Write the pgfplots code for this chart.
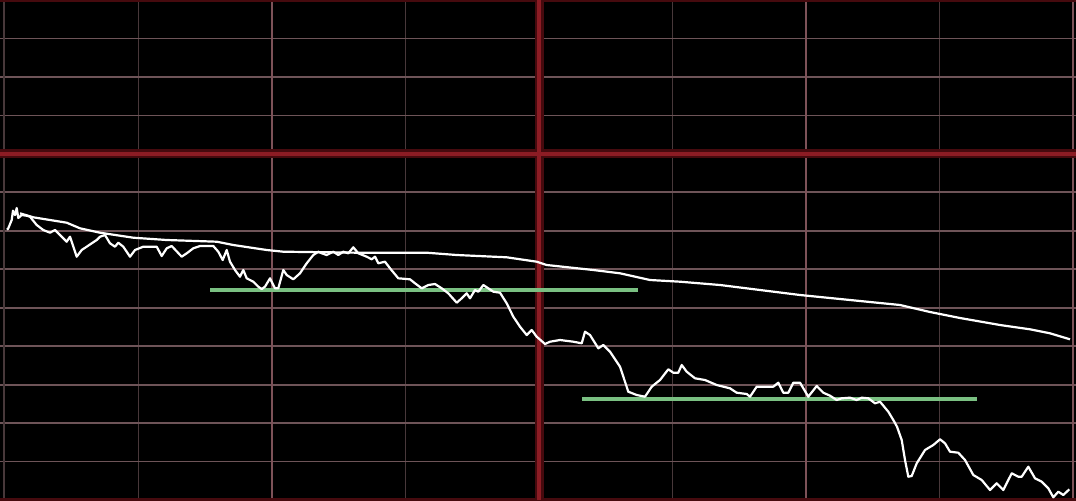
\documentclass[border=0pt]{standalone}
\usepackage{pgfplots}
\pgfplotsset{compat=1.18}

\definecolor{hgrid}{RGB}{110,84,88}
\definecolor{vgrid}{RGB}{72,56,58}
\definecolor{vmid}{RGB}{125,82,88}
\definecolor{redline}{RGB}{140,28,36}
\definecolor{redglow}{RGB}{70,10,14}
\definecolor{support}{RGB}{122,192,130}

% intraday price (jagged) and its running average, x = time index, y = level
\pgfplotstableread{
x y
6.7 270.7
8 271
11.7 280
13 289.3
15 285
16.7 292
18.3 282
21.7 285
26.7 284.3
30 283.3
36.7 275
43.3 270
50 267.3
55 270
61.7 263.3
66.7 258.3
70 263.3
76.7 243.3
81.7 250
86.7 253.3
91.7 256.7
96.7 260
100 263.3
105 265
110 256.7
115 253.3
118.3 257.3
123.3 253.3
130 243.3
135 250
143.3 253.3
156.7 253.3
161.7 244
166.7 251.7
171.7 254
181.7 243.3
186.7 246.7
193.3 251.7
200 254
213.3 254
218.3 248.3
222.7 240
226.7 250
230 238.3
235 230
240 223.3
243.3 230
246.7 221.7
253.3 218.3
258.3 213.3
261.7 211
265 213.3
270 221.7
275 211.7
278.3 211.7
283.3 230
286.7 225
293.3 220.7
300 226.7
306.7 236.7
313.3 245
318.3 248.3
321.7 246.7
326.7 245
333.3 248.3
338.3 245
343.3 248.3
348.3 246.7
353.3 252.7
358.3 246.7
366.7 243.3
371.7 240.7
375 243.3
378.3 236.7
385 238.3
390 231.7
398.3 221.7
410 220.7
415 216.7
421.7 211.7
428.3 215
435 216
441.7 211.7
448.3 206.7
456.7 197.3
461.7 201.7
466.7 206.7
470 201.7
475 210
478.3 208.3
483.3 215
488.3 211.7
493.3 208.3
500 207.3
506.7 196.7
513.3 183.3
520 173.3
526.7 165
531.7 170
536.7 163.3
545 156
550 158.3
560 160
573.3 158.3
581.7 156.7
585 168.3
590 165
598.3 151.7
603.3 155
610 148.3
620 133.3
628.3 108.3
636.7 105
645 103.3
651.7 113.3
660 120
668.3 130.7
673.3 127.3
678.3 127.3
681.7 135
686.7 128.3
695 121.7
705 120
716.7 115
730 111.7
736.7 107.3
746.7 106
750 103.3
756.7 113.3
773.3 113.3
778.3 117.3
783.3 107.3
788.3 107.3
793.3 117.3
800 117.3
808.3 103.3
816.7 114
823.3 107.3
830 104.3
836.7 100
841.7 101.7
850 102.3
856.7 100
861.7 102.3
868.3 101.7
875 96.7
880 98.3
888.3 88.3
893.3 80
897 73.3
901.7 60
905 40
908.3 23.3
911.7 24
916.7 36.7
925 50
933.3 55
940 60.7
945 56.7
950 48.3
958.3 47.3
965 40
973.3 25
981.7 20
990 10
996.7 16.7
1003.3 10
1011.7 26.7
1018.3 23.3
1021.7 23.3
1028.3 33.3
1035 21.7
1041.7 18.3
1048.3 11.7
1053.3 2.7
1058.3 8.3
1063.3 5
1069.3 10.7
}\price

\pgfplotstableread{
x y
20 286.7
33.3 282.7
50 280
66.7 277.3
80 271.7
100 267.3
133.3 262.3
166.7 260
216.7 258.3
233.3 255
266.7 250
283.3 248.3
358.3 247.3
426.7 247.3
456.7 245
506.7 242.7
536.7 238.3
546.7 235
593.3 230
620 226.7
650 220
680 218.3
720 215
760 210
800 205
850 200
900 195
930 188
960 182
1000 175
1030 170.7
1050 166.7
1070 160.7
}\average

\begin{document}
\begin{tikzpicture}
\begin{axis}[
  scale only axis,
  width=538pt, height=250pt,
  xmin=0, xmax=1076,
  ymin=0, ymax=500,
  axis background/.style={fill=black},
  axis line style={draw=none},
  tick style={draw=none},
  xticklabels={}, yticklabels={},
  xtick={138.5,405.5,672.5,939.5},
  ytick={38.5,76.9,115.4,153.8,192.3,230.8,269.2,307.7,384.6,423.1,461.5},
  grid=major,
  x grid style={vgrid, line width=0.9pt},
  y grid style={hgrid, line width=0.9pt},
  clip=true,
]
% secondary and main separators
\draw[vmid, line width=1pt] (axis cs:272,0) -- (axis cs:272,500);
\draw[vmid, line width=1pt] (axis cs:806,0) -- (axis cs:806,500);
\draw[vgrid, line width=1pt] (axis cs:4,0) -- (axis cs:4,500);
\draw[vmid, line width=1pt] (axis cs:1073,0) -- (axis cs:1073,500);
\draw[redglow, line width=1.5pt] (axis cs:0,499.5) -- (axis cs:1076,499.5);
\draw[redglow, line width=1.5pt] (axis cs:0,0.5) -- (axis cs:1076,0.5);
\draw[redglow, line width=4.5pt] (axis cs:539,0) -- (axis cs:539,500);
\draw[redglow, line width=4.5pt] (axis cs:0,346.2) -- (axis cs:1076,346.2);
\draw[redline, line width=1.7pt] (axis cs:539,0) -- (axis cs:539,500);
\draw[redline, line width=1.7pt] (axis cs:0,346.2) -- (axis cs:1076,346.2);

% support levels
\addplot[support, line width=2pt] coordinates {(210,210.5) (638,210.5)};
\addplot[support, line width=2pt] coordinates {(582,100.7) (977,100.7)};

\addplot[white, line width=1.1pt, line join=round] table {\average};
\addplot[white, line width=1.1pt, line join=round] table {\price};
\end{axis}
\pgfresetboundingbox
\path[use as bounding box] (current axis.south west) rectangle (current axis.north east);
\end{tikzpicture}
\end{document}
